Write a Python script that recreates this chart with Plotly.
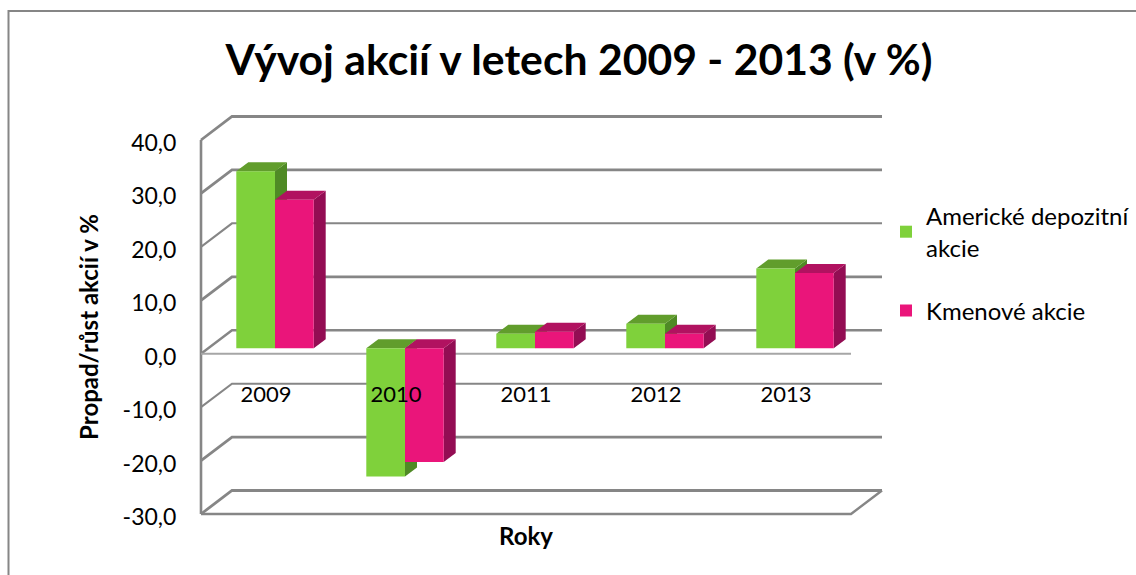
import plotly.graph_objects as go

categories = ["2009", "2010", "2011", "2012", "2013"]
adr_values = [33.1, -24.0, 2.7, 4.6, 14.9]
common_values = [27.8, -21.3, 3.1, 2.7, 14.1]
value_ticks = [-30, -20, -10, 0, 10, 20, 30, 40]
tick_labels = ["-30,0", "-20,0", "-10,0", "0,0", "10,0", "20,0", "30,0", "40,0"]

W, H = 1136, 575
FONT = "Lato"
GRID = "#868686"
PLOT_L, PLOT_R, PLOT_T, PLOT_B = 201, 851, 140, 514
PX_X = (PLOT_R - PLOT_L) / 5
PX_Y = (PLOT_B - PLOT_T) / 70
WALL_DX, WALL_DY = 31 / PX_X, 23.5 / PX_Y
BAR_SHIFT_X, BAR_SHIFT_Y = 9 / PX_X, 5.5
BAR_W = 38.7 / PX_X
SIDE_DX, SIDE_DY = 12 / PX_X, 9 / PX_Y
XMIN, XMAX = -0.5, 4.5
YMIN, YMAX = -30, 40
LINE_W = {40: 2.8, 30: 2.8, 20: 2.0, 10: 2.8, 0: 2.4, -10: 2.0, -20: 2.8, -30: 2.8}


def xdom(a, b):
    return [a / W, b / W]


def ydom(top, bottom):
    return [1 - bottom / H, 1 - top / H]


fig = go.Figure()


def path(xs, ys, color, width, axes=("x", "y")):
    fig.add_trace(go.Scatter(x=xs, y=ys, mode="lines", xaxis=axes[0], yaxis=axes[1],
                             line=dict(color=color, width=width),
                             showlegend=False, hoverinfo="skip"))


# Walls and gridlines: subplot spanning the whole page, same scale as the front plane
for v in value_ticks:
    path([XMIN, XMIN + WALL_DX, XMAX + WALL_DX], [v, v + WALL_DY, v + WALL_DY], GRID, LINE_W[v])
path([XMIN, XMIN], [YMIN, YMAX], GRID, 2.6)
path([XMIN, XMAX, XMAX + WALL_DX], [YMIN, YMIN, YMIN + WALL_DY], GRID, 2.4)
path([XMIN, XMAX], [0, 0], "#a6a6a6", 2)

# Front-plane axes carrying the value ticks and titles
path([XMIN], [YMIN], "rgba(0,0,0,0)", 0, axes=("x2", "y2"))


# 3D faces of the bars, computed from the values
def poly(xs, ys, color):
    fig.add_trace(go.Scatter(x=xs + xs[:1], y=ys + ys[:1], mode="lines", fill="toself", fillcolor=color,
                             line=dict(width=0, color=color), xaxis="x3", yaxis="y3",
                             showlegend=False, hoverinfo="skip"))


series_faces = [(adr_values, -BAR_W, "#4f8a25", "#619d2c"), (common_values, 0.0, "#930d53", "#b11260")]
for i in range(len(categories)):
    for values, off, side, top in series_faces:
        v = values[i]
        x0 = i + BAR_SHIFT_X + off
        x1 = x0 + BAR_W
        lo, hi = min(v, 0), max(v, 0)
        poly([x1, x1, x1 + SIDE_DX, x1 + SIDE_DX], [lo, hi, hi + SIDE_DY, lo + SIDE_DY], side)
        poly([x0, x1, x1 + SIDE_DX, x0 + SIDE_DX], [hi, hi, hi + SIDE_DY, hi + SIDE_DY], top)

# Front faces
fig.add_trace(go.Bar(x=categories, y=adr_values, name="Americké depozitní<br>akcie", xaxis="x4", yaxis="y4",
                     width=BAR_W, offset=BAR_SHIFT_X - BAR_W, marker=dict(color="#7fd13b", line=dict(width=0)),
                     legendgroup="a"))
fig.add_trace(go.Bar(x=categories, y=common_values, name="Kmenové akcie", xaxis="x4", yaxis="y4",
                     width=BAR_W, offset=BAR_SHIFT_X, marker=dict(color="#ea157a", line=dict(width=0)),
                     legendgroup="b"))

hidden = dict(visible=False)
bar_y_domain = ydom(PLOT_T - BAR_SHIFT_Y, PLOT_B - BAR_SHIFT_Y)
fig.update_layout(
    width=W, height=H, margin=dict(l=0, r=0, t=0, b=0, pad=0), autosize=False,
    paper_bgcolor="white", plot_bgcolor="rgba(0,0,0,0)",
    font=dict(family=FONT, color="black", size=22),
    barmode="overlay",
    title=dict(text="<b>Vývoj akcií v letech 2009 - 2013 (v %)</b>", x=579 / W, xanchor="center",
               y=1 - 60 / H, yanchor="middle", font=dict(family=FONT, size=42.7, color="black")),
    xaxis=dict(domain=[0, 1], range=[XMIN - PLOT_L / PX_X, XMAX + (W - PLOT_R) / PX_X], **hidden),
    yaxis=dict(domain=[0, 1], range=[YMIN - (H - PLOT_B) / PX_Y, YMAX + PLOT_T / PX_Y], **hidden),
    xaxis2=dict(domain=xdom(PLOT_L, PLOT_R), range=[XMIN, XMAX], anchor="y2", showticklabels=False, ticks="",
                showgrid=False, zeroline=False, showline=False, automargin=False,
                title=dict(text="<b>Roky</b>", standoff=14, font=dict(family=FONT, size=24))),
    yaxis2=dict(domain=ydom(PLOT_T, PLOT_B), range=[YMIN, YMAX], anchor="x2", tickvals=value_ticks,
                ticktext=tick_labels, ticks="outside", ticklen=19, tickcolor="rgba(0,0,0,0)", showgrid=False,
                zeroline=False, showline=False, tickfont=dict(size=23), automargin=False, ticklabelshift=3,
                title=dict(text="<b>Propad/růst akcií v %</b>", standoff=17, font=dict(family=FONT, size=24))),
    xaxis3=dict(domain=xdom(PLOT_L, PLOT_R), range=[XMIN, XMAX], anchor="y3", **hidden),
    yaxis3=dict(domain=bar_y_domain, range=[YMIN, YMAX], anchor="x3", **hidden),
    xaxis4=dict(domain=xdom(PLOT_L, PLOT_R), range=[XMIN, XMAX], anchor="free", position=1 - 379 / H,
                type="category", categoryorder="array", categoryarray=categories, showgrid=False,
                zeroline=False, showline=False, ticks="", tickfont=dict(size=22), automargin=False),
    yaxis4=dict(domain=bar_y_domain, range=[YMIN, YMAX], anchor="x4", **hidden),
    showlegend=True,
    legend=dict(x=886 / W, xanchor="left", y=1 - 194 / H, yanchor="top", traceorder="grouped",
                tracegroupgap=29, font=dict(family=FONT, size=24), bgcolor="rgba(0,0,0,0)"),
    shapes=[dict(type="path", xref="paper", yref="paper",
                 path=f"M {8.5/W} 0 L {8.5/W} {1-11/H} L 1 {1-11/H}",
                 line=dict(color=GRID, width=2))],
)

fig.write_html("out.html", config=dict(displayModeBar=False),
               post_script="document.body.style.margin='0';")
